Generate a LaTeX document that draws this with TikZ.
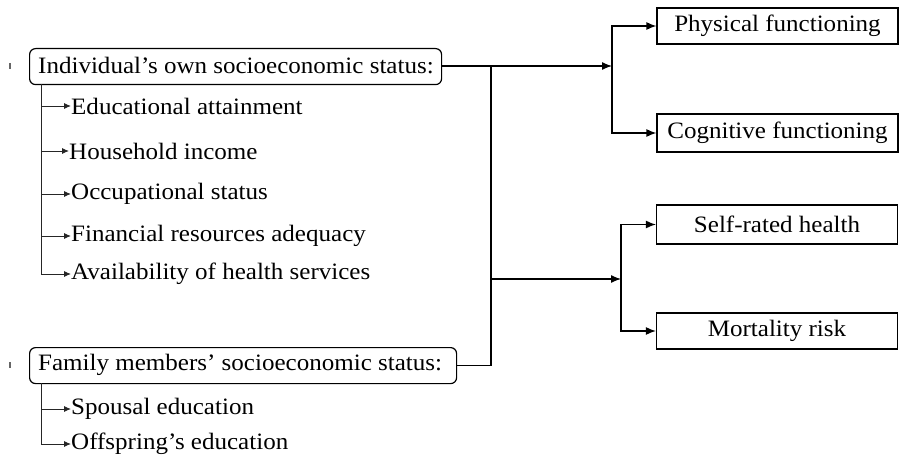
\documentclass[tikz,border=0pt]{standalone}
\usepackage{fontspec}
\setmainfont{Liberation Serif}
\usepackage{graphicx}
\usetikzlibrary{arrows.meta}
\newcommand{\sx}[1]{\scalebox{1.065}[1]{#1}}
\begin{document}
\begin{tikzpicture}[x=1pt,y=-1pt,
  font=\fontsize{23.5}{26}\selectfont,
  ln/.style={line width=1.3pt, black},
  arr/.style={ln, -{Latex[length=10pt,width=8pt]}},
  subln/.style={line width=0.9pt, black!85},
  subarr/.style={subln, -{Latex[length=7pt,width=6pt]}},
  rbox/.style={draw, line width=1.2pt, rounded corners=6pt, inner sep=0pt, anchor=north west},
  obox/.style={draw, line width=1.2pt, inner sep=0pt, minimum width=241pt},
  txt/.style={anchor=west, inner sep=0pt},
  tick/.style={black!60, line width=1.6pt}]
\useasboundingbox (0,0) rectangle (901,465);

% left boxes
\node[rbox, minimum width=412pt, minimum height=36pt] (ind) at (29,48) {};
\node[txt] (indt) at (38,66) {\sx{Individual’s own socioeconomic status:}};
\node[rbox, minimum width=427pt, minimum height=36pt] (fam) at (29,347) {};
\node[txt] (famt) at (38,365) {\sx{Family members’ socioeconomic status:}};

% small marks
\draw[tick] (10,63) -- (10,69);
\draw[tick] (10,362) -- (10,368);

% sub-items
\node[txt] (e1) at (71,106) {\sx{Educational attainment}};
\node[txt] (e2) at (69,151) {\sx{Household income}};
\node[txt] (e3) at (71,194) {\sx{Occupational status}};
\node[txt] (e4) at (71,236) {\sx{Financial resources adequacy}};
\node[txt] (e5) at (71,274) {\sx{Availability of health services}};
\node[txt] (f1) at (71,409) {\sx{Spousal education}};
\node[txt] (f2) at (71,444) {\sx{Offspring’s education}};

\coordinate (b1) at (41,84);
\coordinate (b2) at (41,383);
\draw[subln] (b1) -- (b1 |- e5.west);
\foreach \n in {e1,e2,e3,e4,e5}{\draw[subarr] (b1 |- \n.west) -- (\n.west);}
\draw[subln] (b2) -- (b2 |- f2.west);
\foreach \n in {f1,f2}{\draw[subarr] (b2 |- \n.west) -- (\n.west);}

% outcome boxes
\node[obox, minimum height=36pt] (phys) at (777.5,26) {\sx{Physical functioning}};
\node[obox, minimum height=38pt] (cog) at (777.5,133) {\sx{Cognitive functioning}};
\node[obox, minimum height=39pt] (srh) at (777,224.5) {\sx{Self-rated health}};
\node[obox, minimum height=36pt] (mort) at (777,331) {\sx{Mortality risk}};

% connectors
\coordinate (t1) at (491,66);
\coordinate (j1) at (612,66);
\coordinate (t2) at (491,279);
\coordinate (j2) at (621,279);
\draw[arr] (ind.east |- t1) -- (j1);
\draw[ln] (fam.east) -| (t1);
\draw[arr] (t2) -- (j2);
\draw[arr] (j1) |- (phys.west);
\draw[arr] (j1) |- (cog.west);
\draw[arr] (j2) |- (srh.west);
\draw[arr] (j2) |- (mort.west);
\end{tikzpicture}
\end{document}
